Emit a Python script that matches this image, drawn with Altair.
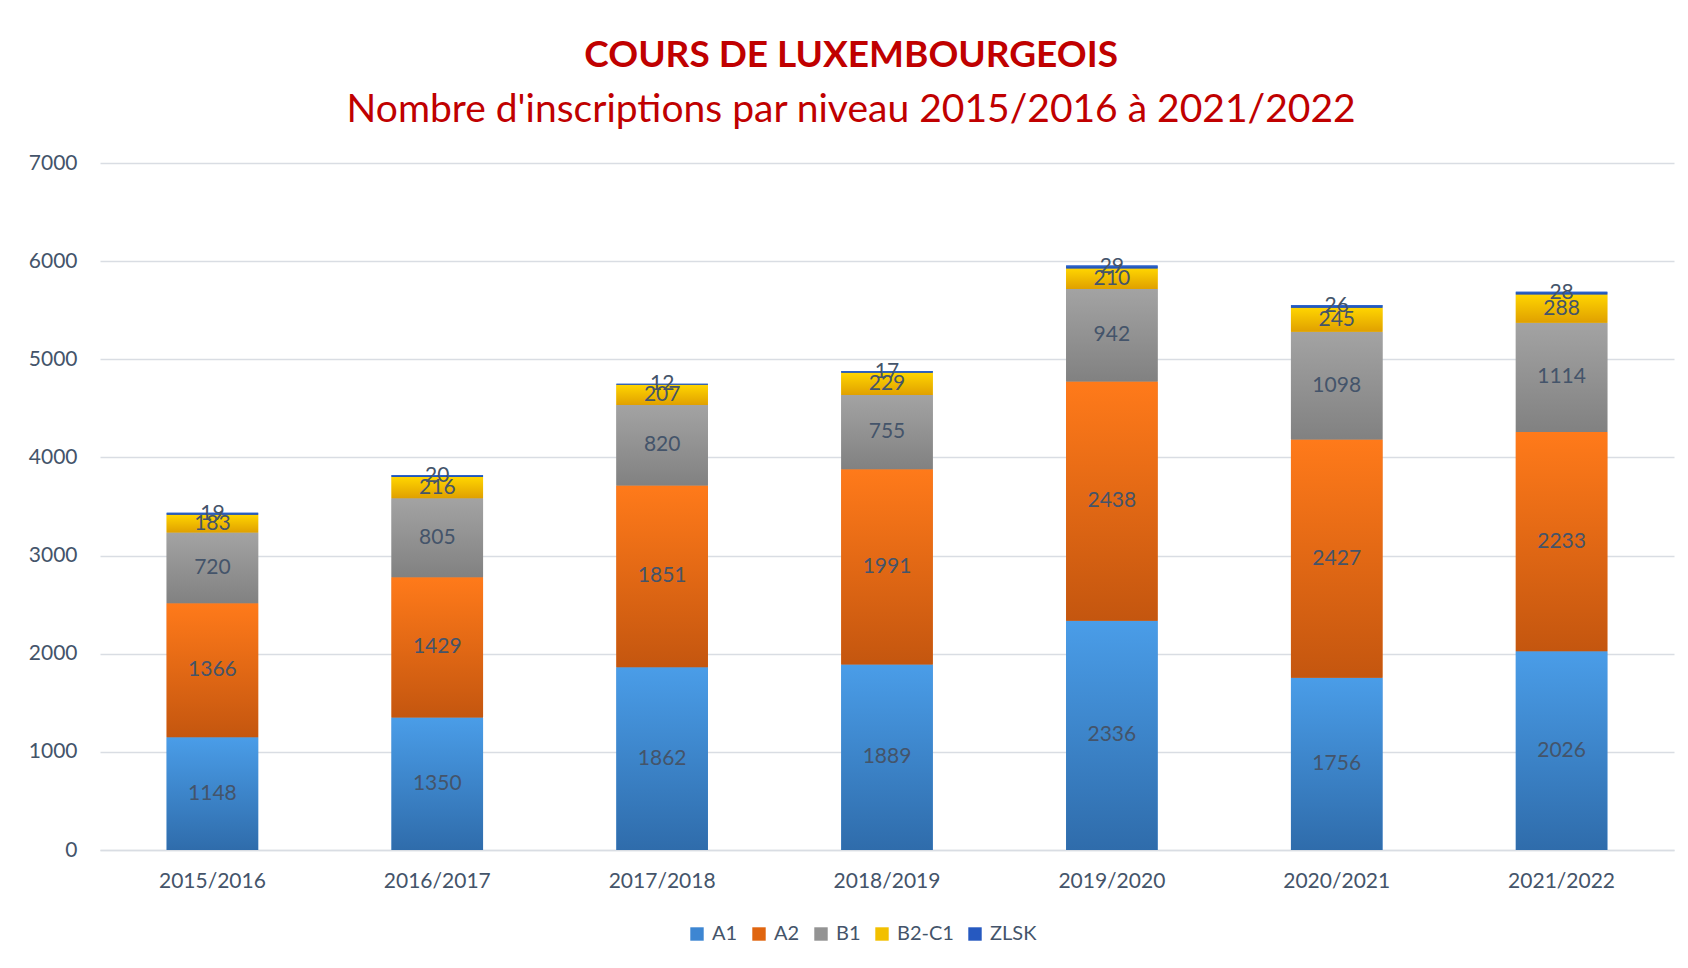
import altair as alt
import pandas as pd

years = ["2015/2016", "2016/2017", "2017/2018", "2018/2019", "2019/2020", "2020/2021", "2021/2022"]
levels = ["A1", "A2", "B1", "B2-C1", "ZLSK"]
a1 = [1148, 1350, 1862, 1889, 2336, 1756, 2026]
a2 = [1366, 1429, 1851, 1991, 2438, 2427, 2233]
b1 = [720, 805, 820, 755, 942, 1098, 1114]
b2c1 = [183, 216, 207, 229, 210, 245, 288]
zlsk = [19, 20, 12, 17, 29, 26, 28]
y_ticks = [0, 1000, 2000, 3000, 4000, 5000, 6000, 7000]

solid = ["#3D86D2", "#E0650F", "#939393", "#F2C000", "#2659C0"]
grad_top = ["#4A9DE8", "#FF7A1A", "#A3A3A3", "#FFD500", "#2E68D4"]
grad_bot = ["#2F6CAB", "#C4560F", "#818181", "#E0A000", "#1F4FA8"]

series = [a1, a2, b1, b2c1, zlsk]
rows = []
for li, (lv, vals) in enumerate(zip(levels, series)):
    for yr, v in zip(years, vals):
        rows.append({"year": yr, "level": lv, "order": li, "value": v})
df = pd.DataFrame(rows)

FONT = "Lato"
TXT = "#44546A"

x_enc = alt.X("year:N", sort=years, title=None,
              scale=alt.Scale(paddingInner=0.593, paddingOuter=0.2965),
              axis=alt.Axis(labelFontSize=21, labelColor=TXT, labelFont=FONT,
                            labelPadding=20, ticks=False, domain=True,
                            domainColor="#D9DDE3", domainWidth=1.5, labelAngle=0))
y_enc = alt.Y("y0:Q", title=None,
              scale=alt.Scale(domain=[0, 7000], nice=False),
              axis=alt.Axis(values=y_ticks, format="d", labelFontSize=21, labelColor=TXT,
                            labelFont=FONT, labelPadding=23, ticks=False, domain=False,
                            gridColor="#D9DDE3", gridWidth=1.5))

base = alt.Chart(df).transform_stack(
    stack="value", groupby=["year"], as_=["y0", "y1"],
    sort=[alt.SortField("order", "ascending")]
)

solid_layer = base.mark_bar().encode(
    x=x_enc, y=y_enc, y2="y1:Q",
    color=alt.Color("level:N", sort=levels,
                    scale=alt.Scale(domain=levels, range=solid),
                    legend=alt.Legend(title=None, orient="none", direction="horizontal",
                                      legendX=587, legendY=761, padding=0,
                                      symbolType="square", symbolSize=180,
                                      symbolStrokeWidth=0,
                                      labelFontSize=20, labelColor=TXT, labelFont=FONT,
                                      columnPadding=11, labelOffset=5))
)

layers = [solid_layer]
for lv, top, bot in zip(levels, grad_top, grad_bot):
    g = alt.LinearGradient(gradient="linear",
                           stops=[alt.GradientStop(color=top, offset=0),
                                  alt.GradientStop(color=bot, offset=1)],
                           x1=0, x2=0, y1=0, y2=1)
    layers.append(
        base.transform_filter(alt.datum.level == lv).mark_bar(color=g).encode(
            x=alt.X("year:N", sort=years), y="y0:Q", y2="y1:Q")
    )

labels = base.transform_calculate(mid="(datum.y0 + datum.y1) / 2").mark_text(
    fontSize=21, color=TXT, font=FONT
).encode(x=alt.X("year:N", sort=years), y="mid:Q", text="value:Q")
layers.append(labels)

chart = alt.layer(*layers).properties(
    width=1574, height=687,
    background="white",
    padding={"left": 20, "top": 29, "right": 5, "bottom": 5},
    title=alt.Title("COURS DE LUXEMBOURGEOIS",
                    subtitle="Nombre d'inscriptions par niveau 2015/2016 à 2021/2022",
                    fontSize=37, fontWeight="bold", color="#C00000", font=FONT,
                    subtitleFontSize=39, subtitleColor="#C00000", subtitleFont=FONT,
                    subtitlePadding=16, offset=21, anchor="middle", frame="bounds")
).configure_view(strokeWidth=0, stroke="transparent")

chart.save("out.html", embed_options={"renderer": "svg", "actions": False})
